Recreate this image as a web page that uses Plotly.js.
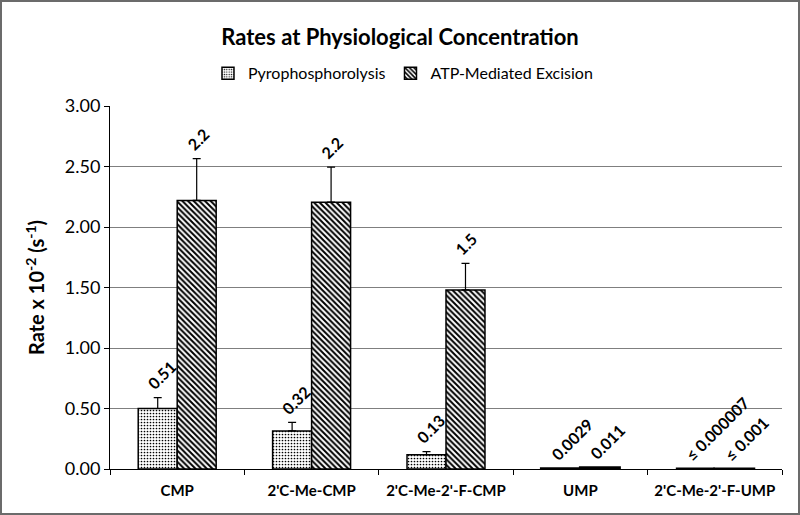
<!DOCTYPE html>
<html>
<head>
<meta charset="utf-8">
<script src="https://cdn.plot.ly/plotly-3.0.1.min.js"></script>
<style>
body{margin:0;padding:0;background:#fff;}
#wrap{position:relative;width:800px;height:515px;}
#chart{width:800px;height:515px;}
#frame{position:absolute;left:0;top:0;width:800px;height:515px;box-sizing:border-box;border:2px solid #6b6b6b;pointer-events:none;}
</style>
</head>
<body>
<div id="wrap"><div id="chart"></div><div id="frame"></div></div>
<script>
const categories = ["CMP", "2'C-Me-CMP", "2'C-Me-2'-F-CMP", "UMP", "2'C-Me-2'-F-UMP"];
const pyroValues = [0.50, 0.315, 0.118, 0.0029, 0.000007];
const pyroErrors = [0.09, 0.07, 0.025, 0, 0];
const atpValues = [2.22, 2.205, 1.48, 0.011, 0.001];
const atpErrors = [0.345, 0.29, 0.22, 0, 0];
const pyroLabels = ["0.51", "0.32", "0.13", "0.0029", "\u2264 0.000007"];
const atpLabels = ["2.2", "2.2", "1.5", "0.011", "\u2264 0.001"];
const yTicks = [0, 0.5, 1, 1.5, 2, 2.5, 3];

const FONT = "Lato, 'Liberation Sans', sans-serif";
const outlineWidths = categories.map((c, i) => (pyroValues[i] < 0.05 ? 3 : 1.5));
const outlineWidthsAtp = categories.map((c, i) => (atpValues[i] < 0.05 ? 3 : 1.5));

const traces = [
  {
    type: 'bar', name: 'Pyrophosphorolysis', x: categories, y: pyroValues,
    marker: {color: '#ffffff', line: {color: '#000', width: outlineWidths},
      pattern: {shape: '.', fgcolor: '#000', bgcolor: '#fff', size: 3, solidity: 0.25}},
    error_y: {type: 'data', symmetric: false, array: pyroErrors, arrayminus: pyroValues.map(() => 0),
      color: '#000', thickness: 1.2, width: 4},
    hoverinfo: 'skip'
  },
  {
    type: 'bar', name: 'ATP-Mediated Excision', x: categories, y: atpValues,
    marker: {color: '#ffffff', line: {color: '#000', width: outlineWidthsAtp},
      pattern: {shape: '\\', fgcolor: '#000', bgcolor: '#fff', size: 4, solidity: 0.5}},
    error_y: {type: 'data', symmetric: false, array: atpErrors, arrayminus: atpValues.map(() => 0),
      color: '#000', thickness: 1.2, width: 4},
    hoverinfo: 'skip'
  }
];

const annotations = [];
categories.forEach((c, i) => {
  annotations.push({x: c, y: pyroValues[i] + pyroErrors[i], xref: 'x', yref: 'y', text: pyroLabels[i],
    showarrow: false, textangle: -45, xanchor: 'left', yanchor: 'bottom', xshift: -36, yshift: 2,
    font: {family: FONT, size: 16, color: '#000', weight: 'bold'}});
  annotations.push({x: c, y: atpValues[i] + atpErrors[i], xref: 'x', yref: 'y', text: atpLabels[i],
    showarrow: false, textangle: -45, xanchor: 'left', yanchor: 'bottom', xshift: 3, yshift: 2,
    font: {family: FONT, size: 16, color: '#000', weight: 'bold'}});
});

const layout = {
  width: 800, height: 515,
  margin: {l: 110, r: 18, t: 106, b: 46},
  paper_bgcolor: '#fff', plot_bgcolor: '#fff',
  font: {family: FONT, color: '#000'},
  title: {text: '<b>Rates at Physiological Concentration</b>', x: 0.5, xref: 'container', xanchor: 'center',
    yref: 'container', font: {family: FONT, size: 22, color: '#000'}},
  barmode: 'group', bargap: 0.42, bargroupgap: 0,
  showlegend: true,
  legend: {orientation: 'h', x: 0.436, xanchor: 'center', y: 1.09, yanchor: 'middle',
    font: {family: FONT, size: 16, color: '#000'}, traceorder: 'normal'},
  xaxis: {type: 'category', showline: true, linecolor: '#000', linewidth: 1, ticks: 'outside',
    tickson: 'boundaries', ticklen: 5, tickcolor: '#000', showgrid: false,
    tickfont: {family: FONT, size: 15, color: '#000', weight: 'bold'}, ticklabelstandoff: 8},
  yaxis: {range: [0, 3], tickvals: yTicks, tickformat: '.2f', showline: true, linecolor: '#000', linewidth: 1,
    ticks: 'outside', ticklen: 5, tickcolor: '#000', showgrid: true, gridcolor: '#7f7f7f', gridwidth: 1,
    zeroline: false, tickfont: {family: FONT, size: 18, color: '#000'},
    title: {text: '<b>Rate x 10<sup>-2</sup> (s<sup>-1</sup>)</b>', font: {family: FONT, size: 20, color: '#000'}, standoff: 14}},
  annotations: annotations
};
layout.title.y = 1 - 30 / 515;

Plotly.newPlot('chart', traces, layout, {displayModeBar: false, staticPlot: true});
</script>
</body>
</html>
